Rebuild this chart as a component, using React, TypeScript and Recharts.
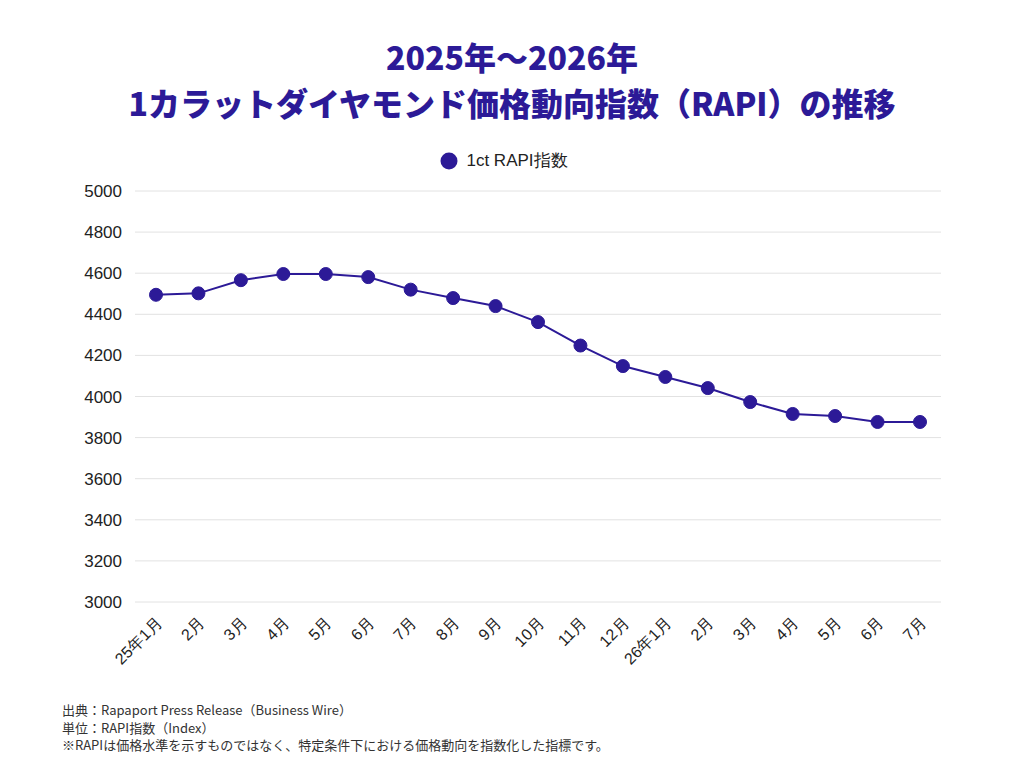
import { LineChart, Line, XAxis, YAxis, CartesianGrid, Legend } from 'recharts';

// 月ラベル
const months = [
  '25年1月', '2月', '3月', '4月', '5月', '6月', '7月', '8月', '9月', '10月', '11月', '12月',
  '26年1月', '2月', '3月', '4月', '5月', '6月', '7月',
];

// 1ct RAPI 指数
const rapiValues = [
  4495, 4502, 4566, 4596, 4596, 4581, 4520, 4479, 4440, 4362, 4248, 4148,
  4095, 4041, 3973, 3915, 3905, 3876, 3876,
];

const yTicks = [3000, 3200, 3400, 3600, 3800, 4000, 4200, 4400, 4600, 4800, 5000];

const footnotes = [
  '出典：Rapaport Press Release（Business Wire）',
  '単位：RAPI指数（Index）',
  '※RAPIは価格水準を示すものではなく、特定条件下における価格動向を指数化した指標です。',
];

const data = months.map((m, i) => ({ month: m, rapi: rapiValues[i] }));

const MAIN = '#2c1a97';
const LATIN = '"Liberation Sans", Arial, sans-serif';
const JP = '"Noto Sans CJK JP", "Noto Sans", sans-serif';

const MonthTick = ({ x, y, payload }: any) => (
  <text
    x={x + 7}
    y={y + 14}
    transform={`rotate(-45, ${x + 7}, ${y + 14})`}
    textAnchor="end"
    fontSize={16}
    fontFamily={LATIN}
    fill="#222"
  >
    {payload.value}
  </text>
);

const LegendContent = () => (
  <div style={{ display: 'flex', alignItems: 'center', justifyContent: 'center', fontFamily: LATIN, fontSize: 17, color: '#222' }}>
    <svg width={18} height={18} style={{ marginRight: 8 }}>
      <circle cx={9} cy={9} r={8.5} fill={MAIN} />
    </svg>
    <span>1ct RAPI指数</span>
  </div>
);

export default function App() {
  return (
    <div style={{ position: 'absolute', left: 0, top: 0, width: 1024, height: 768, background: '#fff' }}>
      <div
        style={{
          position: 'absolute',
          top: 33,
          left: 0,
          width: 1024,
          textAlign: 'center',
          fontFamily: JP,
          fontWeight: 900,
          fontSize: 32,
          lineHeight: '46px',
          color: MAIN,
        }}
      >
        <div>2025年〜2026年</div>
        <div>1カラットダイヤモンド価格動向指数（RAPI）の推移</div>
      </div>

      <div style={{ position: 'absolute', top: 0, left: 0 }}>
        <LineChart width={1024} height={700} data={data} margin={{ top: 191, right: 83, bottom: 68, left: 75 }}>
          <CartesianGrid vertical={false} stroke="#e2e2e2" />
          <XAxis
            dataKey="month"
            axisLine={false}
            tickLine={false}
            interval={0}
            padding={{ left: 21, right: 21 }}
            tick={<MonthTick />}
          />
          <YAxis
            domain={[3000, 5000]}
            ticks={yTicks}
            width={60}
            axisLine={false}
            tickLine={false}
            tickMargin={7}
            tick={{ fontSize: 17, fontFamily: LATIN, fill: '#222' }}
          />
          <Legend
            verticalAlign="middle"
            align="center"
            content={<LegendContent />}
            wrapperStyle={{ top: 149, left: -8, width: 1024 }}
          />
          <Line
            type="linear"
            dataKey="rapi"
            name="1ct RAPI指数"
            stroke={MAIN}
            strokeWidth={2}
            dot={{ r: 6.5, fill: MAIN, stroke: MAIN, strokeWidth: 1 }}
            activeDot={false}
            isAnimationActive={false}
          />
        </LineChart>
      </div>

      <div
        style={{
          position: 'absolute',
          top: 701,
          left: 62,
          fontFamily: JP,
          fontSize: 13,
          lineHeight: '17.5px',
          color: '#333',
        }}
      >
        {footnotes.map((t) => (
          <div key={t}>{t}</div>
        ))}
      </div>
    </div>
  );
}
